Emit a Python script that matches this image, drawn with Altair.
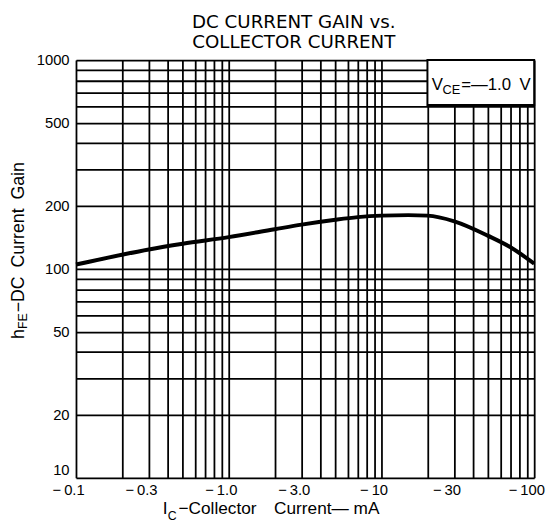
import altair as alt
import pandas as pd

# Curve
ic = [0.1, 0.2, 0.3, 0.5, 1.0, 2.0, 3.0, 5.0, 7.0, 10, 15, 20, 30, 50, 70, 100]
hfe = [105, 117, 124, 132, 142, 155, 163, 172, 177, 180, 181, 180, 169, 144, 127, 106]

x_label_values = [0.1, 0.3, 1.0, 3.0, 10, 30, 100]
x_label_texts = ["\u2212\u20090.1", "\u2212\u20090.3", "\u2212\u20091.0", "\u2212\u20093.0",
                 "\u2212\u200910", "\u2212\u200930", "\u2212\u2009100"]
y_label_values = [10, 20, 50, 100, 200, 500, 1000]

x_grid = [0.1, 0.2, 0.3, 0.4, 0.5, 0.6, 0.7, 0.8, 0.9,
          1, 2, 3, 4, 5, 6, 7, 8, 9,
          10, 20, 30, 40, 50, 60, 70, 80, 90, 100]
y_grid = [10, 20, 30, 40, 50, 60, 70, 80, 90,
          100, 200, 300, 400, 500, 600, 700, 800, 900, 1000]

box_x = [20, 100]
box_y = [610, 1000]

W, H = 465, 424
FONT = "Liberation Sans"


def label_expr(values, texts):
    parts = []
    for v, t in zip(values, texts):
        parts.append(f"abs(datum.value - {v}) < {v}*1e-6 ? '{t}'")
    return " : ".join(parts) + " : ''"


def y_label_expr(values):
    cond = " || ".join(f"abs(datum.value - {v}) < {v}*1e-6" for v in values)
    return f"({cond}) ? format(datum.value, 'd') : ''"


xscale = alt.Scale(type="log", domain=[0.1, 100], nice=False)
yscale = alt.Scale(type="log", domain=[10, 1000], nice=False)

df = pd.DataFrame({"ic": ic, "hfe": hfe})

base = alt.Chart(df).encode(
    x=alt.X("ic:Q", scale=xscale,
            axis=alt.Axis(values=x_grid, labelExpr=label_expr(x_label_values, x_label_texts),
                          grid=True, gridColor="black", gridWidth=1.8, gridOpacity=1,
                          ticks=False, domain=False, labelFont=FONT, labelFontSize=15,
                          labelColor="black", labelPadding=5, labelOffset=-8,
                          labelOverlap=False, labelFlush=False, title=None)),
    y=alt.Y("hfe:Q", scale=yscale,
            axis=alt.Axis(values=y_grid, labelExpr=y_label_expr(y_label_values),
                          grid=True, gridColor="black", gridWidth=1.8, gridOpacity=1,
                          ticks=False, domain=False, labelFont=FONT, labelFontSize=15,
                          labelColor="black", labelPadding=7,
                          labelBaseline={"condition": {"test": "datum.value <= 10", "value": "bottom"},
                                         "value": "middle"},
                          labelOverlap=False, labelFlush=False, title=None)),
)

curve = base.mark_line(color="black", strokeWidth=4, interpolate="monotone")

box = alt.Chart(pd.DataFrame({"x1": [box_x[0]], "x2": [box_x[1]],
                              "y1": [box_y[0]], "y2": [box_y[1]]})).mark_rect(
    fill="white", stroke="black", strokeWidth=2
).encode(x=alt.X("x1:Q", scale=xscale), x2="x2:Q",
         y=alt.Y("y1:Q", scale=yscale), y2="y2:Q")

one = pd.DataFrame({"a": [0]})


def txt(text, px, py, size, font=FONT, angle=0, align="left"):
    return alt.Chart(one).mark_text(
        text=text, font=font, fontSize=size, color="black", align=align,
        baseline="alphabetic", angle=angle
    ).encode(x=alt.value(px), y=alt.value(py))


texts = [
    # title
    txt("DC CURRENT GAIN vs.", 221, -33, 18.5, font="DejaVu Sans", align="center"),
    txt("COLLECTOR CURRENT", 221, -12, 18.5, font="DejaVu Sans", align="center"),
    # legend box
    txt("V", 361, 30, 17),
    txt("CE", 372, 34, 13),
    txt("=\u20141.0\u2002V", 391, 30, 17),
    # x title
    txt("I", 88, 461, 17.5),
    txt("C", 93, 467, 12.5),
    txt("\u2212Collector", 104, 461, 17.5),
    txt("Current\u2014 mA", 201, 461, 17.5),
    # y title (rotated)
    txt("h", -53, 283, 18, angle=270),
    txt("FE", -50, 273, 12.5, angle=270),
    txt("\u2212DC\u2002Current\u2002Gain", -53, 256, 18, angle=270),
]

chart = alt.layer(curve, box, *texts).properties(
    width=W, height=H,
    padding={"left": 69, "top": 49, "right": 13, "bottom": 44},
    autosize=alt.AutoSizeParams(type="none"),
).configure_view(stroke="black", strokeWidth=3).configure(background="white")

chart.save("out.html", embed_options={"renderer": "svg", "actions": False})
